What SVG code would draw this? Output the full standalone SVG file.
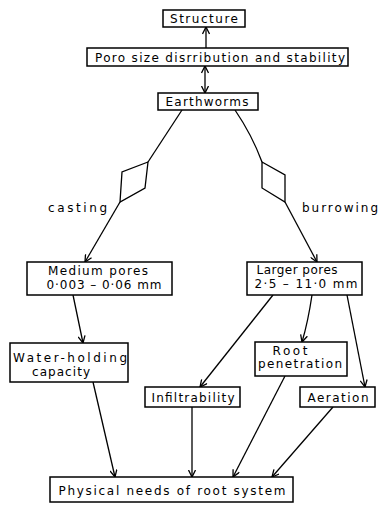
<svg xmlns="http://www.w3.org/2000/svg" width="380" height="507" viewBox="0 0 380 507">
<defs>
<marker id="ah" viewBox="0 0 8 8" refX="7.5" refY="4" markerWidth="8" markerHeight="8" markerUnits="userSpaceOnUse" orient="auto-start-reverse">
<path d="M0.5,0.5 L7.5,4 L0.5,7.5" fill="none" stroke="#000" stroke-width="1.3"/>
</marker>
<style>
.box{fill:#fff;stroke:#000;stroke-width:1.5}
.t{font-family:"DejaVu Sans","Liberation Sans",sans-serif;font-size:12px;fill:#000;text-anchor:middle}
.tl{font-family:"DejaVu Sans","Liberation Sans",sans-serif;font-size:12px;fill:#000}
.c{fill:none;stroke:#000;stroke-width:1.3}
.a{marker-end:url(#ah)}
</style>
</defs>
<rect width="380" height="507" fill="#fff"/>
<g id="connectors">
<line class="c a" x1="206" y1="48" x2="206" y2="27"/>
<line class="c a" x1="205" y1="66" x2="205" y2="93" marker-start="url(#ah)"/>
<path class="c" d="M182,110 L148,162"/>
<polygon class="c" points="148,162 122,172 120,202 145,188"/>
<path class="c a" d="M120,202 L85,262"/>
<path class="c" d="M235,110 Q252,135 262,162"/>
<polygon class="c" points="262,162 285,175 285,202 262,188"/>
<path class="c a" d="M285,202 L317,262"/>
<path class="c a" d="M73,295 L83,343"/>
<path class="c a" d="M312,295 Q308,322 302,342"/>
<path class="c a" d="M273,295 L200,387"/>
<path class="c a" d="M347,295 L365,387"/>
<path class="c a" d="M93,382 L115,477"/>
<path class="c a" d="M192,407 L192,477"/>
<path class="c a" d="M285,376 L233,477"/>
<path class="c a" d="M333,407 L272,477"/>
<text class="tl" x="48" y="212" textLength="59" lengthAdjust="spacing">casting</text>
<text class="tl" x="302" y="212" textLength="76" lengthAdjust="spacing">burrowing</text>
</g>
<g id="structure">
<rect class="box" x="163" y="10" width="82" height="17"/>
<text class="t" x="204" y="23" textLength="68" lengthAdjust="spacing">Structure</text>
</g>
<g id="pore-size">
<rect class="box" x="87" y="48" width="261" height="18"/>
<text class="t" x="220" y="62" textLength="250" lengthAdjust="spacing">Poro size disrribution and stability</text>
</g>
<g id="earthworms">
<rect class="box" x="158" y="93" width="100" height="17"/>
<text class="t" x="207" y="106" textLength="83" lengthAdjust="spacing">Earthworms</text>
</g>
<g id="medium-pores">
<rect class="box" x="27" y="262" width="145" height="33"/>
<text class="t" x="98" y="275" textLength="100" lengthAdjust="spacing">Medium pores</text>
<text class="t" x="104" y="289" textLength="115" lengthAdjust="spacing">0·003 – 0·06 mm</text>
</g>
<g id="larger-pores">
<rect class="box" x="247" y="262" width="115" height="33"/>
<text class="t" x="297" y="274" textLength="81" lengthAdjust="spacing">Larger pores</text>
<text class="t" x="306" y="288" textLength="103" lengthAdjust="spacing">2·5 – 11·0 mm</text>
</g>
<g id="water-holding">
<rect class="box" x="10" y="343" width="118" height="39"/>
<text class="t" x="70" y="362" textLength="114" lengthAdjust="spacing">Water-holding</text>
<text class="t" x="61" y="376" textLength="58" lengthAdjust="spacing">capacity</text>
</g>
<g id="root-penetration">
<rect class="box" x="255" y="342" width="92" height="34"/>
<text class="t" x="290" y="355" textLength="35" lengthAdjust="spacing">Root</text>
<text class="t" x="300" y="368" textLength="84" lengthAdjust="spacing">penetration</text>
</g>
<g id="infiltrability">
<rect class="box" x="145" y="387" width="95" height="20"/>
<text class="t" x="193" y="402" textLength="83" lengthAdjust="spacing">Infiltrability</text>
</g>
<g id="aeration">
<rect class="box" x="300" y="387" width="75" height="20"/>
<text class="t" x="338" y="402" textLength="61" lengthAdjust="spacing">Aeration</text>
</g>
<g id="physical-needs">
<rect class="box" x="50" y="477" width="243" height="25"/>
<text class="t" x="172" y="495" textLength="227" lengthAdjust="spacing">Physical needs of root system</text>
</g>
</svg>
